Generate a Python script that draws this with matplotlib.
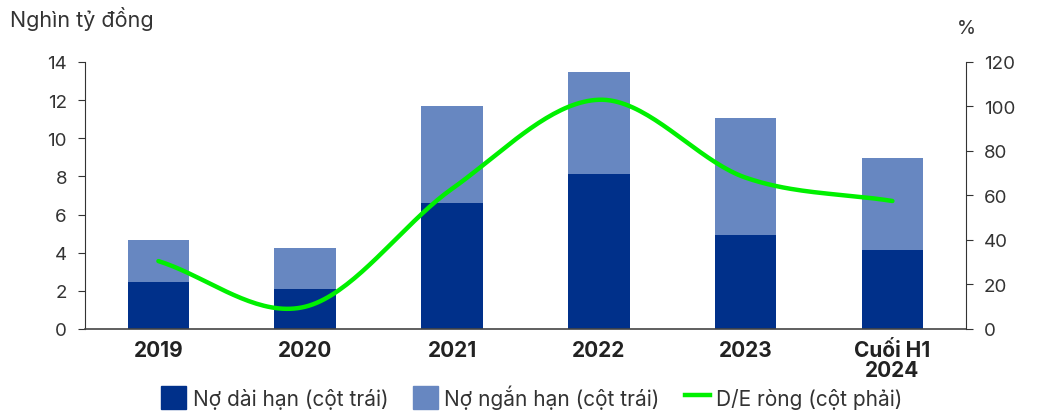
import numpy as np
import matplotlib
matplotlib.use("Agg")
import matplotlib.pyplot as plt
from matplotlib.lines import Line2D
from matplotlib.patches import Patch

plt.rcParams['font.family'] = ['Inter', 'DejaVu Sans']

years = ['2019', '2020', '2021', '2022', '2023', 'Cuối H1\n2024']
no_dai_han = [2.46, 2.1, 6.6, 8.13, 4.93, 4.14]
no_ngan_han = [2.21, 2.15, 5.1, 5.35, 6.13, 4.83]
de_rong = [30.5, 10, 63, 103, 68, 57.5]

dark = '#00308A'
light = '#6787C1'
green = '#00F000'


def catmull_rom(x, y, n=40):
    # smooth curve through the points, like a spreadsheet "smoothed line"
    x = np.asarray(x, float)
    y = np.asarray(y, float)
    px = np.concatenate([[2 * x[0] - x[1]], x, [2 * x[-1] - x[-2]]])
    py = np.concatenate([[2 * y[0] - y[1]], y, [2 * y[-1] - y[-2]]])
    xs, ys = [], []
    t = np.linspace(0, 1, n)
    for i in range(1, len(px) - 2):
        for p, out in ((px, xs), (py, ys)):
            p0, p1, p2, p3 = p[i - 1], p[i], p[i + 1], p[i + 2]
            c = 0.5 * ((2 * p1) + (-p0 + p2) * t
                       + (2 * p0 - 5 * p1 + 4 * p2 - p3) * t ** 2
                       + (-p0 + 3 * p1 - 3 * p2 + p3) * t ** 3)
            out.extend(c)
    return np.array(xs), np.array(ys)


fig = plt.figure(figsize=(10.43, 4.14), dpi=100)
ax = fig.add_axes([0.0815, 0.203, 0.8445, 0.645])
x = np.arange(len(years))

ax.bar(x, no_dai_han, width=0.42, color=dark, zorder=2)
ax.bar(x, no_ngan_han, width=0.42, bottom=no_dai_han, color=light, zorder=2)

ax.set_xlim(-0.5, len(years) - 0.5)
ax.set_ylim(0, 14)
ax.set_yticks(range(0, 15, 2))
ax.set_xticks(x)
ax.set_xticklabels(years, fontsize=15, fontweight='bold', color='#222222',
                   linespacing=1.0)
ax.tick_params(axis='x', length=0, pad=8)
ax.tick_params(axis='y', labelsize=13.5, length=5, color='#333333',
               labelcolor='#333333', pad=8)
for s in ['top', 'right']:
    ax.spines[s].set_visible(False)
ax.spines['left'].set_color('#333333')
ax.spines['bottom'].set_color('#444444')
ax.spines['bottom'].set_linewidth(1.2)

ax2 = ax.twinx()
ax2.set_ylim(0, 120)
ax2.set_yticks(range(0, 121, 20))
ax2.tick_params(axis='y', labelsize=13.5, length=5, color='#333333',
                labelcolor='#333333', pad=8)
for s in ['top', 'left', 'bottom']:
    ax2.spines[s].set_visible(False)
ax2.spines['right'].set_color('#333333')

sx, sy = catmull_rom(x, de_rong)
ax2.plot(sx, sy, color=green, lw=3.2, solid_capstyle='round', zorder=3)

fig.text(0.01, 0.955, 'Nghìn tỷ đồng', fontsize=15.5, color='#333333',
         va='center', ha='left')
fig.text(0.927, 0.93, '%', fontsize=14, color='#333333', va='center',
         ha='center')

handles = [Patch(color=dark), Patch(color=light),
           Line2D([0], [0], color=green, lw=3.2)]
labels = ['Nợ dài hạn (cột trái)', 'Nợ ngắn hạn (cột trái)',
          'D/E ròng (cột phải)']
fig.legend(handles, labels, loc='center', bbox_to_anchor=(0.51, 0.04),
           ncol=3, frameon=False, fontsize=15, handlelength=1.2,
           handleheight=1.3, handletextpad=0.3, columnspacing=1.2,
           labelcolor='#333333')

fig.savefig('out.png', dpi=100)
